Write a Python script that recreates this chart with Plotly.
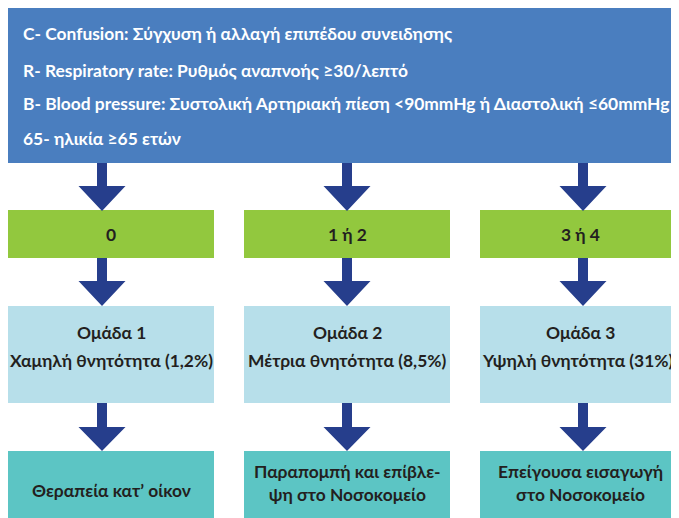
import plotly.graph_objects as go

# ---- content ----
criteria_lines = [
    "C- Confusion: Σύγχυση ή αλλαγή επιπέδου συνειδησης",
    "R- Respiratory rate: Ρυθμός αναπνοής ≥30/λεπτό",
    "B- Blood pressure: Συστολική Αρτηριακή πίεση <90mmHg ή Διαστολική ≤60mmHg",
    "65- ηλικία ≥65 ετών",
]
score_labels = ["0", "1 ή 2", "3 ή 4"]
group_titles = ["Ομάδα 1", "Ομάδα 2", "Ομάδα 3"]
group_mortality = ["Χαμηλή θνητότητα (1,2%)", "Μέτρια θνητότητα (8,5%)", "Υψηλή θνητότητα (31%)"]
action_labels = [
    "Θεραπεία κατ’ οίκον",
    "Παραπομπή και επίβλε-<br>ψη στο Νοσοκομείο",
    "Επείγουσα εισαγωγή<br>στο Νοσοκομείο",
]

# ---- layout geometry (page pixels; page body has an 8px margin) ----
W, H = 679, 518
OFF = 8
col_x0 = [8, 244, 480]
col_x1 = [214, 450, 679]
text_cx = [111, 347, 580]
arrow_cx = [102, 347, 583]

C_TOP = "#4A7EBF"
C_GREEN = "#92C83E"
C_LBLUE = "#B7DFEA"
C_TEAL = "#5CC5C4"
C_ARROW = "#263E8C"
C_TEXT = "#231F20"
FONT = "Lato, Roboto, sans-serif"
FS = 17.4

fig = go.Figure()
shapes = []
annotations = []

def rect(x0, y0, x1, y1, color):
    shapes.append(dict(type="rect", xref="x", yref="y", x0=x0, y0=y0, x1=x1, y1=y1,
                       fillcolor=color, line=dict(width=0), layer="below"))

def arrow(cx, y0, yh, yt):
    sw, hw = 5, 23.5
    path = (f"M {cx-sw},{y0} L {cx+sw},{y0} L {cx+sw},{yh} L {cx+hw},{yh} "
            f"L {cx},{yt} L {cx-hw},{yh} L {cx-sw},{yh} Z")
    shapes.append(dict(type="path", xref="x", yref="y", path=path,
                       fillcolor=C_ARROW, line=dict(width=0)))

def text(x, y, s, color, size, xanchor="center"):
    annotations.append(dict(x=x, y=y, xref="x", yref="y", text=s, showarrow=False,
                            xanchor=xanchor, yanchor="middle", align="center",
                            font=dict(family=FONT, size=size, color=color)))

# top box
rect(8, 7, 679, 163, C_TOP)
for y, line in zip([33, 70, 103, 138], criteria_lines):
    text(21, y, f"<b>{line}</b>", "white", FS, xanchor="left")

for i in range(3):
    x0, x1 = col_x0[i], col_x1[i]
    cx = text_cx[i]
    arrow(arrow_cx[i], 163, 186, 211)
    rect(x0, 210, x1, 258, C_GREEN)
    text(cx, 234, f"<b>{score_labels[i]}</b>", C_TEXT, FS)
    arrow(arrow_cx[i], 258, 281, 306)
    rect(x0, 306, x1, 403, C_LBLUE)
    text(cx, 332, f"<b>{group_titles[i]}</b>", C_TEXT, FS)
    text(cx - (2 if i == 2 else 0), 360, f"<b>{group_mortality[i]}</b>", C_TEXT, FS)
    arrow(arrow_cx[i], 403, 427, 451)
    rect(x0, 451, x1, 518, C_TEAL)
    text(cx, 483 if "<br>" in action_labels[i] else 490, f"<b>{action_labels[i]}</b>", C_TEXT, FS)

fig.update_layout(
    width=W - OFF, height=H - OFF, margin=dict(l=0, r=0, t=0, b=0),
    paper_bgcolor="white", plot_bgcolor="white",
    xaxis=dict(range=[OFF, W], visible=False, fixedrange=True),
    yaxis=dict(range=[H, OFF], visible=False, fixedrange=True),
    shapes=shapes, annotations=annotations, showlegend=False,
)
fig.write_html("out.html")
